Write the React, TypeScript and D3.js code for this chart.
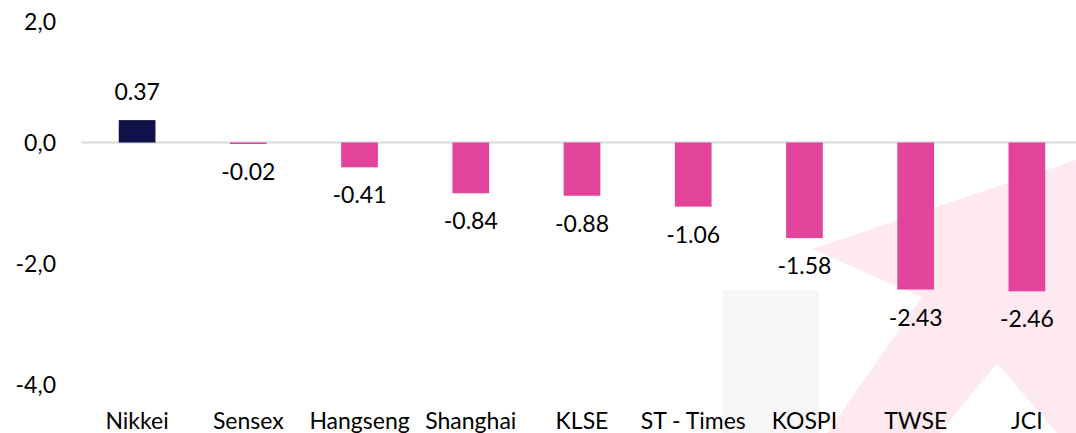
import React from "react";
import * as d3 from "d3";

const categories = ["Nikkei", "Sensex", "Hangseng", "Shanghai", "KLSE", "ST - Times", "KOSPI", "TWSE", "JCI"];
const values = [0.37, -0.02, -0.41, -0.84, -0.88, -1.06, -1.58, -2.43, -2.46];
const yTicks = [2, 0, -2, -4];

const W = 1076;
const H = 433;
const FONT = "Lato, 'Open Sans', sans-serif";
const FS = 23;

export default function App() {
  const x = d3
    .scaleBand<string>()
    .domain(categories)
    .range([81.5, 1082.5])
    .paddingInner(0.67)
    .paddingOuter(0.335);
  const y = d3.scaleLinear().domain([-4, 2]).range([384.5, 21.5]);
  const fmtTick = (v: number) => d3.format(".1f")(v).replace(".", ",").replace("\u2212", "-");
  const fmtVal = (v: number) => d3.format(".2f")(v).replace("\u2212", "-");

  const pinkShape: [number, number][] = [
    [812, 249],
    [1076, 160],
    [1076, 433],
    [1057, 433],
    [997, 363],
    [940, 433],
    [827, 433],
    [922, 297],
  ];

  return (
    <svg
      width={W}
      height={H}
      style={{ position: "absolute", left: 0, top: 0, background: "#fff" }}
      fontFamily={FONT}
    >
      <rect x={0} y={0} width={W} height={H} fill="#ffffff" />
      <rect x={723} y={290} width={96} height={143} fill="#f7f7f7" />
      <polygon points={pinkShape.map((p) => p.join(",")).join(" ")} fill="#fde9ef" />

      <line x1={81.5} x2={W} y1={y(0)} y2={y(0)} stroke="#d9d9d9" strokeWidth={2} />

      {yTicks.map((t) => (
        <text key={t} x={56} y={y(t)} dy="0.35em" textAnchor="end" fontSize={FS} fill="#000">
          {fmtTick(t)}
        </text>
      ))}

      {categories.map((c, i) => {
        const v = values[i];
        const bx = x(c)!;
        const bw = x.bandwidth();
        const top = Math.min(y(v), y(0));
        const h = Math.abs(y(v) - y(0));
        const cx = bx + bw / 2;
        return (
          <g key={c}>
            <rect x={bx} y={top} width={bw} height={Math.max(h, 1.5)} fill={v >= 0 ? "#12124a" : "#e2439b"} />
            <text
              x={cx}
              y={v >= 0 ? y(v) - 20 : y(v) + 36}
              textAnchor="middle"
              fontSize={FS}
              fill="#000"
            >
              {fmtVal(v)}
            </text>
            <text x={cx} y={429} textAnchor="middle" fontSize={FS} fill="#000">
              {c}
            </text>
          </g>
        );
      })}
    </svg>
  );
}
